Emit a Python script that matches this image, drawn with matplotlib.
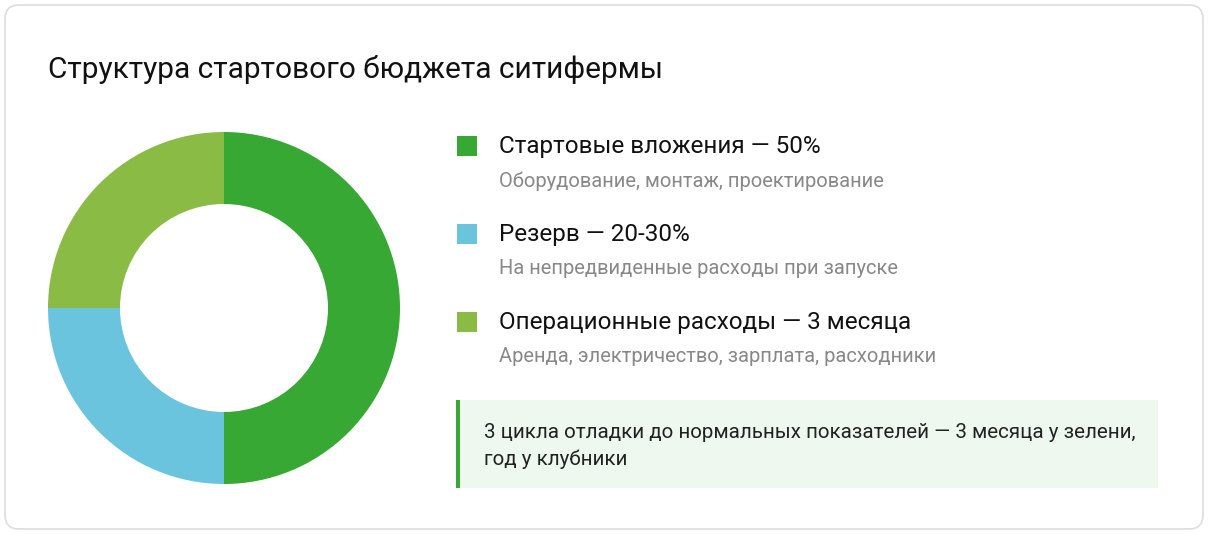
import matplotlib.pyplot as plt
from matplotlib.patches import FancyBboxPatch, Rectangle

plt.rcParams['font.family'] = ['Roboto', 'DejaVu Sans']

W, H = 1208, 536
shares = [50, 25, 25]
colors = ['#37a833', '#6bc4de', '#8abb45']
labels = ['Стартовые вложения — 50%', 'Резерв — 20-30%', 'Операционные расходы — 3 месяца']
notes = ['Оборудование, монтаж, проектирование',
         'На непредвиденные расходы при запуске',
         'Аренда, электричество, зарплата, расходники']
title = 'Структура стартового бюджета ситифермы'
callout = '3 цикла отладки до нормальных показателей — 3 месяца у зелени,\nгод у клубники'

fig = plt.figure(figsize=(W / 100, H / 100), dpi=100)
bg = fig.add_axes([0, 0, 1, 1])
bg.set_xlim(0, W)
bg.set_ylim(H, 0)
bg.axis('off')

bg.add_patch(FancyBboxPatch((5, 5), W - 10, H - 12, boxstyle='round,pad=0,rounding_size=14',
                            fc='white', ec='#dddddd', lw=1.2))
bg.text(48, 70, title, fontsize=21.5, color='#111111', va='center')

for i, (lab, note, c) in enumerate(zip(labels, notes, colors)):
    y = 146 + i * 88
    bg.add_patch(Rectangle((457, y - 10), 20, 20, fc=c, ec='none'))
    bg.text(499, y, lab, fontsize=17.5, color='#111111', va='center')
    bg.text(499, y + 35, note, fontsize=14.5, color='#888888', va='center')

bg.add_patch(Rectangle((456, 400), 702, 88, fc='#eef8ee', ec='none'))
bg.add_patch(Rectangle((456, 400), 4, 88, fc='#37a833', ec='none'))
bg.text(484, 446, callout, fontsize=14.8, color='#222222', va='center', linespacing=1.45)

ax = fig.add_axes([48 / W, (H - 308 - 176) / H, 352 / W, 352 / H])
ax.pie(shares, colors=colors, startangle=90, counterclock=False, radius=1,
       wedgeprops=dict(width=72 / 176, edgecolor='none'))
ax.set_xlim(-1, 1)
ax.set_ylim(-1, 1)
ax.set_aspect('equal')

fig.savefig('out.png', dpi=100)
